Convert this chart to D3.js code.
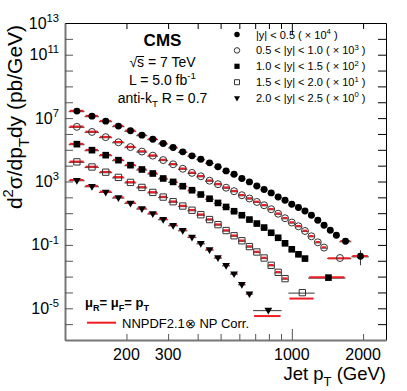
<!DOCTYPE html>
<html>
<head>
<meta charset="utf-8">
<script src="https://cdn.jsdelivr.net/npm/d3@7/dist/d3.min.js"></script>
<style>
  body { margin: 0; background: #fff; }
  svg { display: block; font-family: "Liberation Sans", Arial, Helvetica, sans-serif; }
</style>
</head>
<body>
<div id="chart"></div>
<script>
// Jet pT bin edges (GeV)
const ptEdges = [114, 133, 153, 174, 196, 220, 245, 272, 300, 330, 362, 395, 430, 468, 507,
  548, 592, 638, 686, 737, 790, 846, 905, 967, 1032, 1101, 1172, 1248, 1327, 1410, 1497,
  1588, 1684, 1784, 1890, 2000, 2116];

const rapidityLabels = ['|y| < 0.5', '0.5 < |y| < 1.0', '1.0 < |y| < 1.5', '1.5 < |y| < 2.0', '2.0 < |y| < 2.5'];
const scaleExponents = [4, 3, 2, 1, 0];

// measured cross sections as plotted (already multiplied by the legend factor), pb/GeV
const data0 = [2.76e7, 1.33e7, 6.44e6, 3.12e6, 1.57e6, 8.41e5, 4.70e5, 2.52e5, 1.41e5, 7.41e4, 4.14e4,
  2.56e4, 1.50e4, 8.61e3, 4.68e3, 2.89e3, 1.55e3, 944, 527, 313, 191, 106, 65.9, 36.8, 22.8, 13.9,
  7.43, 3.59, 1.73, 0.838, 0.405, 0.169, 0.019];
const data1 = [2.81e6, 1.34e6, 6.28e5, 2.99e5, 1.49e5, 7.74e4, 4.27e4, 2.25e4, 1.22e4, 6.34e3, 3.49e3,
  2.13e3, 1.12e3, 675, 406, 244, 136, 84.3, 51.4, 31.8, 17.8, 9.25, 4.81, 2.57, 1.50, 0.757, 0.350,
  0.146, 0.0677, 0.0149];
const data2 = [2.27e5, 9.48e4, 4.58e4, 2.22e4, 1.07e4, 5.73e3, 3.20e3, 1.55e3, 944, 505, 282, 151, 81.8,
  44.5, 24.8, 13.3, 7.43, 3.97, 2.22, 1.24, 0.583, 0.282, 0.126, 0.0528, 0.0255, 0.0137, 8.61e-4];
const data3 = [1.73e4, 8.24e3, 3.87e3, 1.82e3, 877, 424, 205, 104, 53.0, 28.3, 15.4, 8.0, 3.97, 1.90,
  0.804, 0.377, 0.182, 0.0783, 0.0357, 0.0149, 5.16e-3, 1.86e-3, 7.45e-4, 9.72e-5];
const data4 = [1.21e3, 505, 220, 97.5, 44.5, 19.7, 9.52, 4.15, 1.73, 0.839, 0.316, 0.126, 0.0506,
  0.0158, 5.16e-3, 1.54e-3, 3.25e-4, 8.41e-5, 7.74e-6];

// NNPDF2.1 x NP prediction, same scaling
const theory0 = [2.76e7, 1.33e7, 6.44e6, 3.12e6, 1.57e6, 8.41e5, 4.70e5, 2.52e5, 1.41e5, 7.41e4, 4.14e4,
  2.56e4, 1.50e4, 8.61e3, 4.68e3, 2.89e3, 1.55e3, 944, 527, 313, 191, 106, 65.9, 36.8, 22.8, 13.9,
  7.43, 3.59, 1.73, 0.838, 0.405, 0.169, 0.019];
const theory1 = [2.81e6, 1.34e6, 6.28e5, 2.99e5, 1.49e5, 7.74e4, 4.27e4, 2.25e4, 1.22e4, 6.34e3, 3.49e3,
  2.13e3, 1.12e3, 675, 406, 244, 136, 84.3, 51.4, 31.8, 17.8, 9.25, 4.81, 2.57, 1.50, 0.757, 0.350,
  0.146, 0.0677, 0.0137];
const theory2 = [2.27e5, 9.48e4, 4.58e4, 2.22e4, 1.07e4, 5.73e3, 3.20e3, 1.55e3, 944, 505, 282, 151, 81.8,
  44.5, 24.8, 13.3, 7.43, 3.97, 2.22, 1.24, 0.583, 0.282, 0.126, 0.0528, 0.0255, 0.0137, 8.61e-4];
const theory3 = [1.73e4, 8.24e3, 3.87e3, 1.82e3, 877, 424, 205, 104, 53.0, 28.3, 15.4, 8.0, 3.97, 1.90,
  0.804, 0.377, 0.182, 0.0783, 0.0357, 0.0149, 5.16e-3, 1.86e-3, 7.45e-4, 3.94e-5];
const theory4 = [1.21e3, 505, 220, 97.5, 44.5, 19.7, 9.52, 4.15, 1.73, 0.839, 0.316, 0.126, 0.0506,
  0.0158, 5.16e-3, 1.54e-3, 3.25e-4, 8.41e-5, 3.10e-6];

// vertical error on the last |y|<0.5 point (low, high)
const lastPointError = [0.0052, 0.046];

const yLabelExponents = [13, 11, 7, 3, -1, -5];
const xMinorTicks = [200, 300, 400, 500, 600, 700, 800, 900, 1000, 2000];
const xTickLabels = [200, 300, 1000, 2000];

// each rapidity bin uses the common edges up to where the wide last bins start
const seriesEdges = [
  ptEdges.slice(0, 32).concat([1784, 2116]),
  ptEdges.slice(0, 30).concat([1784]),
  ptEdges.slice(0, 27).concat([1684]),
  ptEdges.slice(0, 24).concat([1248]),
  ptEdges.slice(0, 19).concat([905])
];
const seriesData = [data0, data1, data2, data3, data4];
const seriesTheory = [theory0, theory1, theory2, theory3, theory4];

const markerStyles = [
  { type: d3.symbolCircle, size: 38, filled: true, rotate: 0 },
  { type: d3.symbolCircle, size: 38, filled: false, rotate: 0 },
  { type: d3.symbolSquare, size: 44, filled: true, rotate: 0 },
  { type: d3.symbolSquare, size: 40, filled: false, rotate: 0 },
  { type: d3.symbolTriangle, size: 26, filled: true, rotate: 180 }
];

// text with sub/superscripts built from parts
function richText(sel, parts, size) {
  let shift = 0;
  parts.forEach(p => {
    const target = p.sup ? -0.42 * size : (p.sub ? 0.32 * size : 0);
    sel.append('tspan')
      .attr('dy', target - shift)
      .attr('font-size', (p.sup || p.sub) ? size * 0.7 : size)
      .text(p.t);
    shift = target;
  });
  return sel;
}

class JetSpectrumPlot {

  constructor(_config, series) {
    this.config = {
      parentElement: _config.parentElement,
      containerWidth: 407,
      containerHeight: 391,
      margin: { top: 23, right: 21, bottom: 51, left: 65 }
    };
    this.series = series;
    this.initVis();
  }

  initVis() {
    let vis = this;
    const m = vis.config.margin;
    vis.width = vis.config.containerWidth - m.left - m.right;
    vis.height = vis.config.containerHeight - m.top - m.bottom;

    vis.svg = d3.select(vis.config.parentElement).append('svg')
      .attr('width', vis.config.containerWidth)
      .attr('height', vis.config.containerHeight);

    vis.chartArea = vis.svg.append('g')
      .attr('transform', `translate(${m.left},${m.top})`);

    vis.xScale = d3.scaleLog().domain([110, 2500]).range([0, vis.width]);
    vis.yScale = d3.scaleLog().domain([1e-7, 1e13]).range([vis.height, 0]);

    vis.renderAxes();
    vis.renderVis();
    vis.renderLegend();
  }

  renderAxes() {
    let vis = this;
    const decades = d3.range(-7, 14).map(e => Math.pow(10, e));

    // ticks point inward on all four sides
    const left = vis.chartArea.append('g')
      .call(d3.axisLeft(vis.yScale).tickValues(decades).tickSize(-8).tickSizeOuter(0).tickFormat(''));
    const right = vis.chartArea.append('g')
      .attr('transform', `translate(${vis.width},0)`)
      .call(d3.axisRight(vis.yScale).tickValues(decades).tickSize(-8).tickSizeOuter(0).tickFormat(''));
    const bottom = vis.chartArea.append('g')
      .attr('transform', `translate(0,${vis.height})`)
      .call(d3.axisBottom(vis.xScale).tickValues(xMinorTicks).tickSize(-6).tickSizeOuter(0).tickFormat(''));
    const top = vis.chartArea.append('g')
      .call(d3.axisTop(vis.xScale).tickValues(xMinorTicks).tickSize(-6).tickSizeOuter(0).tickFormat(''));

    bottom.selectAll('.tick line').attr('y2', d => d === 1000 ? -11 : -6);
    top.selectAll('.tick line').attr('y2', d => d === 1000 ? 11 : 6);

    [left, bottom].forEach(g => {
      g.select('.domain').attr('stroke', '#777').attr('stroke-width', 2);
      g.selectAll('.tick line').attr('stroke', '#555');
    });
    [right, top].forEach(g => {
      g.select('.domain').attr('stroke', '#000').attr('stroke-width', 1);
      g.selectAll('.tick line').attr('stroke', '#000');
    });

    // y tick labels 10^n
    yLabelExponents.forEach(e => {
      const t = vis.chartArea.append('text')
        .attr('x', -6)
        .attr('y', vis.yScale(Math.pow(10, e)) + 5.5)
        .attr('text-anchor', 'end')
        .attr('fill', '#000');
      richText(t, [{ t: '10' }, { t: String(e), sup: true }], 16);
    });

    // x tick labels
    xTickLabels.forEach(v => {
      vis.chartArea.append('text')
        .attr('x', vis.xScale(v))
        .attr('y', vis.height + 19.5)
        .attr('text-anchor', 'middle')
        .attr('font-size', 16)
        .text(v);
    });

    // axis titles
    const xt = vis.svg.append('text')
      .attr('x', 386)
      .attr('y', 380)
      .attr('text-anchor', 'end');
    richText(xt, [{ t: 'Jet p' }, { t: 'T', sub: true }, { t: ' (GeV)' }], 18.5);

    const yt = vis.svg.append('text')
      .attr('transform', 'translate(22,117) rotate(-90)')
      .attr('text-anchor', 'middle');
    richText(yt, [{ t: 'd' }, { t: '2', sup: true }, { t: 'σ/dp' }, { t: 'T', sub: true }, { t: 'dy (pb/GeV)' }], 21);
  }

  renderVis() {
    let vis = this;

    const rows = vis.series.map((s, si) => s.values.map((v, i) => ({
      si: si,
      lo: s.edges[i],
      hi: s.edges[i + 1],
      pt: (s.edges[i] + s.edges[i + 1]) / 2,
      y: v,
      th: s.theory[i]
    })));
    const allRows = rows.flat();

    // data x-error bars
    vis.chartArea.append('g').selectAll('line')
      .data(allRows)
      .join('line')
      .attr('x1', d => vis.xScale(d.lo))
      .attr('x2', d => vis.xScale(d.hi))
      .attr('y1', d => vis.yScale(d.y) + 0.5)
      .attr('y2', d => vis.yScale(d.y) + 0.5)
      .attr('stroke', '#555')
      .attr('stroke-width', 1.2);

    // vertical error on the highest-pT point of |y|<0.5
    const last = rows[0][rows[0].length - 1];
    vis.chartArea.append('line')
      .attr('x1', vis.xScale(last.pt))
      .attr('x2', vis.xScale(last.pt))
      .attr('y1', vis.yScale(lastPointError[0]))
      .attr('y2', vis.yScale(lastPointError[1]))
      .attr('stroke', '#333')
      .attr('stroke-width', 1);

    // theory lines
    vis.chartArea.append('g').selectAll('line')
      .data(allRows)
      .join('line')
      .attr('x1', d => vis.xScale(d.lo) + 1)
      .attr('x2', d => vis.xScale(d.hi) - 1)
      .attr('y1', d => vis.yScale(d.th) - 0.3)
      .attr('y2', d => vis.yScale(d.th) - 0.3)
      .attr('stroke', '#ee1c24')
      .attr('stroke-width', 2);

    // markers
    vis.chartArea.append('g').selectAll('path')
      .data(allRows)
      .join('path')
      .attr('transform', d => `translate(${vis.xScale(d.pt)},${vis.yScale(d.y)}) rotate(${markerStyles[d.si].rotate})`)
      .attr('d', d => d3.symbol().type(markerStyles[d.si].type).size(markerStyles[d.si].size)())
      .attr('fill', d => markerStyles[d.si].filled ? '#000' : 'none')
      .attr('stroke', d => markerStyles[d.si].filled ? 'none' : '#333')
      .attr('stroke-width', 1);
  }

  renderLegend() {
    let vis = this;

    // experiment block
    const cx = 162.5;
    vis.svg.append('text')
      .attr('x', cx).attr('y', 45.5)
      .attr('text-anchor', 'middle')
      .attr('font-size', 17).attr('font-weight', 'bold')
      .text('CMS');
    const sq = vis.svg.append('text')
      .attr('x', cx).attr('y', 67)
      .attr('text-anchor', 'middle')
      .attr('font-size', 14)
      .text('√s = 7 TeV');
    const sBox = sq.node().getExtentOfChar(1);
    vis.svg.append('line')
      .attr('x1', sBox.x - 0.5).attr('x2', sBox.x + sBox.width)
      .attr('y1', sBox.y + 2.5).attr('y2', sBox.y + 2.5)
      .attr('stroke', '#000').attr('stroke-width', 1);
    richText(vis.svg.append('text').attr('x', cx).attr('y', 85).attr('text-anchor', 'middle'),
      [{ t: 'L = 5.0 fb' }, { t: '-1', sup: true }], 14);
    richText(vis.svg.append('text').attr('x', cx).attr('y', 102.5).attr('text-anchor', 'middle'),
      [{ t: 'anti-k' }, { t: 'T', sub: true }, { t: ' R = 0.7' }], 14);

    // rapidity legend
    rapidityLabels.forEach((label, i) => {
      const yy = 34.5 + i * 15.9;
      const st = markerStyles[i];
      vis.svg.append('path')
        .attr('transform', `translate(237,${yy}) rotate(${st.rotate})`)
        .attr('d', d3.symbol().type(st.type).size(st.size * 0.62)())
        .attr('fill', st.filled ? '#000' : 'none')
        .attr('stroke', st.filled ? 'none' : '#333');
      const t = vis.svg.append('text').attr('x', 256).attr('y', yy + 4);
      richText(t, [{ t: `${label} ( × 10` }, { t: String(scaleExponents[i]), sup: true }, { t: ' )' }], 11);
    });

    // scale choice and theory legend
    const mu = vis.svg.append('text').attr('x', 85).attr('y', 307).attr('font-weight', 'bold');
    richText(mu, [{ t: 'μ' }, { t: 'R', sub: true }, { t: '= μ' }, { t: 'F', sub: true }, { t: '= p' }, { t: 'T', sub: true }], 13);

    vis.svg.append('line')
      .attr('x1', 87).attr('x2', 116)
      .attr('y1', 322.7).attr('y2', 322.7)
      .attr('stroke', '#ee1c24').attr('stroke-width', 2);
    vis.svg.append('text')
      .attr('x', 122).attr('y', 327.5)
      .attr('font-size', 13)
      .text('NNPDF2.1⊗ NP Corr.');
  }
}

const series = seriesData.map((values, i) => ({
  edges: seriesEdges[i],
  values: values,
  theory: seriesTheory[i]
}));

new JetSpectrumPlot({ parentElement: '#chart' }, series);
</script>
</body>
</html>
